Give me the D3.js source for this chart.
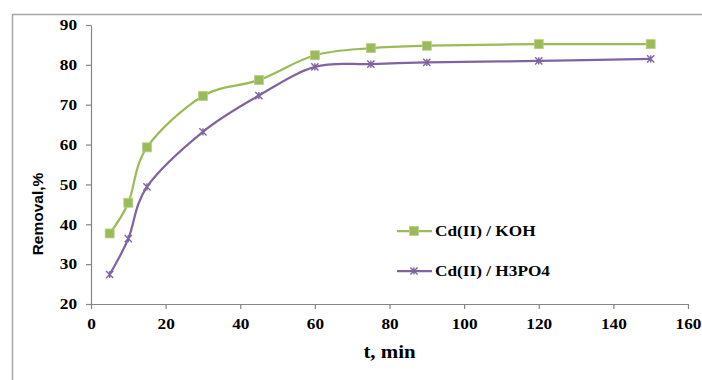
<!DOCTYPE html>
<html>
<head>
<meta charset="utf-8">
<script src="https://cdn.jsdelivr.net/npm/d3@7/dist/d3.min.js"></script>
<style>
  html, body { margin: 0; padding: 0; background: #fff; }
  svg { display: block; }
</style>
</head>
<body>
<svg id="chart" width="702" height="380"></svg>
<script>
// Contact time (min)
const times = [5, 10, 15, 30, 45, 60, 75, 90, 120, 150];
// Removal (%) for each adsorbent
const removalKOH   = [37.7, 45.4, 59.3, 72.2, 76.2, 82.4, 84.2, 84.8, 85.2, 85.2];
const removalH3PO4 = [27.4, 36.4, 49.4, 63.2, 72.3, 79.5, 80.2, 80.6, 81.0, 81.5];
const seriesNames = ["Cd(II) / KOH", "Cd(II) / H3PO4"];
const xTicks = [0, 20, 40, 60, 80, 100, 120, 140, 160];
const yTicks = [20, 30, 40, 50, 60, 70, 80, 90];

const svg = d3.select("#chart");
const serif = "'Liberation Serif', 'Times New Roman', serif";
const sans = "'Liberation Sans', Arial, sans-serif";
const axisGray = "#868686";
const widen = 1.15; // horizontal stretch applied to the serif labels

// outer frame of the chart area
svg.append("path")
  .attr("d", "M12.5,380 V14.5 H702")
  .attr("fill", "none").attr("stroke", "#a6a6a6").attr("stroke-width", 1.5);

const x = d3.scaleLinear().domain([0, 160]).range([91, 688]);
const y = d3.scaleLinear().domain([20, 90]).range([304, 25]);

// x axis
const gx = svg.append("g").attr("transform", `translate(0,${y(20)})`)
  .call(d3.axisBottom(x).tickValues(xTicks).tickSize(5).tickSizeOuter(0).tickPadding(6));
// y axis
const gy = svg.append("g").attr("transform", `translate(${x(0)},0)`)
  .call(d3.axisLeft(y).tickValues(yTicks).tickSize(5).tickSizeOuter(0).tickPadding(9));

[gx, gy].forEach(g => {
  g.attr("font-family", serif);
  g.select(".domain").attr("stroke", axisGray).attr("stroke-width", 1.2);
  g.selectAll(".tick line").attr("stroke", axisGray).attr("stroke-width", 1.2);
  g.selectAll(".tick text")
    .attr("font-family", serif).attr("font-weight", "bold")
    .attr("font-size", 15).attr("fill", "#000");
});
gx.selectAll(".tick text").attr("dy", "0.95em")
  .attr("transform", `scale(${widen},1)`);
gy.selectAll(".tick text")
  .attr("x", -14 / widen)
  .attr("transform", `scale(${widen},1)`);

// axis titles
svg.append("text")
  .attr("transform", `translate(${(x(0) + x(160)) / 2},358) scale(1.1,1)`)
  .attr("text-anchor", "middle")
  .attr("font-family", serif).attr("font-weight", "bold").attr("font-size", 19)
  .text("t, min");

svg.append("text")
  .attr("transform", "translate(43,214) rotate(-90)")
  .attr("text-anchor", "middle")
  .attr("font-family", sans).attr("font-weight", "bold").attr("font-size", 15.5)
  .text("Removal,%");

const colors = ["#9bbb59", "#8064a2"];
const datasets = [removalKOH, removalH3PO4];

const line = d3.line()
  .x(d => x(d[0])).y(d => y(d[1]))
  .curve(d3.curveCatmullRom.alpha(0));

// marker drawing helpers
function squareMarker(g, cx, cy, color) {
  g.append("rect")
    .attr("x", cx - 4.5).attr("y", cy - 4.5)
    .attr("width", 9).attr("height", 9)
    .attr("fill", color).attr("stroke", "#b9d08a").attr("stroke-width", 0.8);
}
function starMarker(g, cx, cy, color) {
  const r = 3.6;
  g.append("path")
    .attr("d", `M${cx - r},${cy - r}L${cx + r},${cy + r}M${cx - r},${cy + r}L${cx + r},${cy - r}M${cx},${cy - r}V${cy + r}`)
    .attr("stroke", color).attr("stroke-width", 1.4).attr("fill", "none");
}
const markers = [squareMarker, starMarker];

datasets.forEach((vals, i) => {
  const pts = times.map((t, j) => [t, vals[j]]);
  svg.append("path")
    .datum(pts)
    .attr("d", line)
    .attr("fill", "none")
    .attr("stroke", colors[i])
    .attr("stroke-width", 2.25);
  const g = svg.append("g");
  pts.forEach(p => markers[i](g, x(p[0]), y(p[1]), colors[i]));
});

// legend
const legendY = [231, 271];
seriesNames.forEach((name, i) => {
  const g = svg.append("g");
  g.append("line")
    .attr("x1", 397).attr("x2", 432)
    .attr("y1", legendY[i]).attr("y2", legendY[i])
    .attr("stroke", colors[i]).attr("stroke-width", 2.25);
  markers[i](g, 414, legendY[i], colors[i]);
  g.append("text")
    .attr("transform", `translate(435,${legendY[i]}) scale(${widen},1)`)
    .attr("dy", "0.35em")
    .attr("font-family", serif).attr("font-weight", "bold").attr("font-size", 15)
    .text(name);
});
</script>
</body>
</html>
